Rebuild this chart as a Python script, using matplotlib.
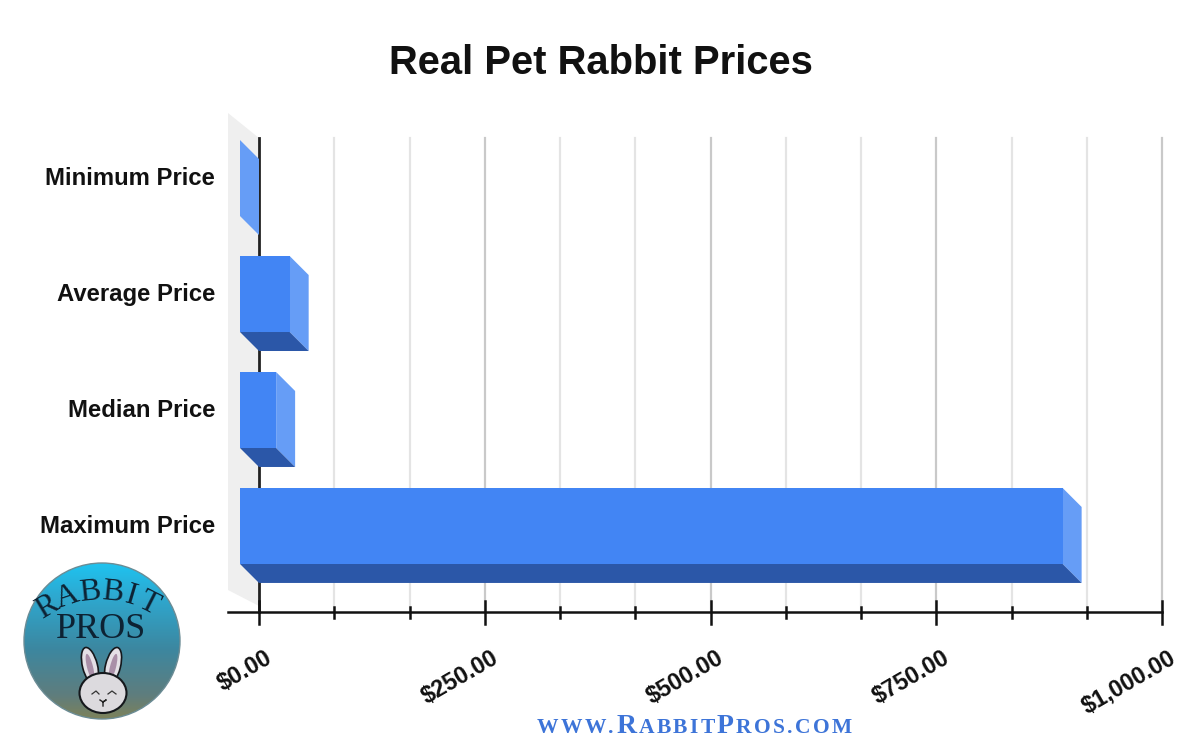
import numpy as np
import matplotlib
matplotlib.use("Agg")
import matplotlib.pyplot as plt
from matplotlib.patches import Polygon, Circle, Ellipse
from matplotlib.transforms import ScaledTranslation

# ---- data ----
categories = ["Minimum Price", "Average Price", "Median Price", "Maximum Price"]
prices = [0.0, 55.0, 40.0, 911.0]
major_ticks = [0, 250, 500, 750, 1000]
major_labels = ["$0.00", "$250.00", "$500.00", "$750.00", "$1,000.00"]
minor_steps = [1, 2, 4, 5, 7, 8, 10, 11]   # in twelfths of the axis
title = "Real Pet Rabbit Prices"
footer_parts = [("WWW.", 0), ("R", 1), ("ABBIT", 0), ("P", 1), ("ROS.COM", 0)]

# ---- style ----
FRONT, SIDE, UNDER = "#4285f4", "#669df6", "#2b57a8"
SANS = ["Liberation Sans", "DejaVu Sans"]
SERIF = ["Liberation Serif", "DejaVu Serif"]

W, H = 1200, 742
fig = plt.figure(figsize=(W / 100, H / 100), dpi=100, facecolor="white")
px_l, px_r, px_t, px_b = 259, 1162, 138, 612
ax = fig.add_axes([px_l / W, 1 - px_b / H, (px_r - px_l) / W, (px_b - px_t) / H])
ax.set_xlim(0, 1000)
ax.set_ylim(3.578, -0.509)
for s in ax.spines.values():
    s.set_visible(False)
ax.patch.set_alpha(0)

dx = 19 / 0.903      # depth of the 3D effect in dollars
dy = 19 / 116        # depth in category units
bar_h = 76 / 116

# back wall
xw = -31 / 0.903
ax.add_patch(Polygon([(xw, -0.509 - 25 / 116), (0, -0.509), (0, 3.578 - 6 / 116), (xw, 3.578 - 22 / 116)],
                     closed=True, fc="#efefef", ec="none", clip_on=False, zorder=1))

# grid
for k in range(1, 13):
    v = k * 1000 / 12
    is_major = k % 3 == 0
    ax.axvline(v, color="#c9c9c9" if is_major else "#e4e4e4", lw=1.6, zorder=1, clip_on=False)

ax.axvline(0, color="#222222", lw=2.0, zorder=2, clip_on=False)

ypos = np.arange(len(categories))
for i, v in zip(ypos, prices):
    yc = i - dy
    top, bot = yc - bar_h / 2, yc + bar_h / 2
    # right side
    ax.add_patch(Polygon([(v - dx, top), (v, top + dy), (v, bot + dy), (v - dx, bot)],
                         closed=True, fc=SIDE, ec="none", zorder=3, clip_on=False))
    if v > 0:
        # underside
        ax.add_patch(Polygon([(-dx, bot), (0, bot + dy), (v, bot + dy), (v - dx, bot)],
                             closed=True, fc=UNDER, ec="none", zorder=3, clip_on=False))
ax.barh(ypos - dy, prices, left=-dx, height=bar_h, color=FRONT, zorder=4, clip_on=False)

# axis line and ticks
ax.plot([xw, 1000], [3.578, 3.578], color="#111111", lw=1.8, clip_on=False, zorder=5)
ax.set_xticks(major_ticks)
ax.set_xticklabels(major_labels, rotation=30, ha="right", rotation_mode="anchor",
                   fontfamily=SANS, fontweight="bold", fontsize=16.8, color="#111111")
ax.tick_params(axis="x", which="major", length=0, pad=25)
shift = ScaledTranslation(6 / 100, 0, fig.dpi_scale_trans)
for lab in ax.get_xticklabels():
    lab.set_transform(lab.get_transform() + shift)
ymaj0, ymaj1 = 3.578 - 11 / 116, 3.578 + 12 / 116
for t in major_ticks:
    ax.plot([t, t], [ymaj0, ymaj1], color="#111111", lw=1.8, clip_on=False, zorder=5)
for k in minor_steps:
    v = k * 1000 / 12
    ax.plot([v, v], [3.578 - 5 / 116, 3.578 + 6 / 116], color="#111111", lw=1.8, clip_on=False, zorder=5)

ax.set_yticks(ypos - dy)
ax.set_yticklabels(categories, fontfamily=SANS, fontweight="bold", fontsize=17.2, color="#111111")
ax.tick_params(axis="y", length=0, pad=31.5)
yshift = ScaledTranslation(0, 2 / 100, fig.dpi_scale_trans)
for lab in ax.get_yticklabels():
    lab.set_transform(lab.get_transform() + yshift)

fig.text(601 / W, 1 - 63 / H, title, ha="center", va="center", fontfamily=SANS,
         fontweight="bold", fontsize=28.8, color="#111111")

# ---- overlay in pixel coordinates: logo and footer ----
ov = fig.add_axes([0, 0, 1, 1], zorder=6)
ov.set_xlim(0, W)
ov.set_ylim(H, 0)
ov.axis("off")

cx, cy, r = 102, 641, 78
stops_pos = [0.0, 0.2, 0.55, 0.85, 1.0]
stops_rgb = np.array([[30, 195, 240], [45, 170, 210], [60, 135, 160], [95, 125, 125], [125, 130, 90]]) / 255
grad_t = np.linspace(0, 1, 256)
grad = np.stack([np.interp(grad_t, stops_pos, stops_rgb[:, c]) for c in range(3)], axis=1)[:, None, :]
im = ov.imshow(grad, extent=(cx - r, cx + r, cy + r, cy - r), aspect="auto", zorder=1, interpolation="bilinear")
clip = Circle((cx, cy), r, transform=ov.transData)
im.set_clip_path(clip)
ov.set_xlim(0, W)
ov.set_ylim(H, 0)
ov.add_patch(Circle((cx, cy), r, fc="none", ec="#6b8c95", lw=1.0, zorder=2))

# curved RABBIT
ac_x, ac_y, ac_r = 101, 697, 105
letters = "RABBIT"
angles = np.array([-31, -18.5, -6, 6, 16.5, 27])
for ch, a in zip(letters, angles):
    th = np.deg2rad(a)
    ov.text(ac_x + ac_r * np.sin(th), ac_y - ac_r * np.cos(th), ch, rotation=-a,
            rotation_mode="anchor", ha="center", va="center", fontfamily=SERIF,
            fontsize=23, color="#0d2233", zorder=3)
ov.text(101, 629, "PROS", ha="center", va="center", fontfamily=SERIF, fontsize=26,
        color="#0d2233", zorder=3)

# rabbit face
for ex, ang in ((90, -14), (113, 14)):
    ov.add_patch(Ellipse((ex, 666), 15, 38, angle=ang, fc="#e4e0e6", ec="#15181c", lw=1.2, zorder=3))
    ov.add_patch(Ellipse((ex, 667), 6, 27, angle=ang, fc="#a98fa8", ec="none", zorder=3))
ov.add_patch(Ellipse((103, 693), 47, 40, fc="#dcdade", ec="#15181c", lw=1.5, zorder=4))
ov.plot([92, 96, 99], [694, 691, 694], color="#333333", lw=0.9, zorder=5)
ov.plot([108, 112, 116], [694, 691, 694], color="#333333", lw=0.9, zorder=5)
ov.plot([100, 103, 106, 103, 103], [700, 702, 700, 702, 706], color="#222222", lw=1.0, zorder=5)

# footer in small capitals, placed letter by letter for tracking
fig.canvas.draw()
rend = fig.canvas.get_renderer()
x = 537
for part, big in footer_parts:
    for ch in part:
        t = ov.text(x, 733, ch, ha="left", va="baseline", fontfamily=SERIF, fontweight="bold",
                    fontsize=20 if big else 15.5, color="#3d74d8", zorder=3)
        adv = t.get_window_extent(rend).width
        x += adv + 2.3

fig.savefig("out.png", dpi=100, facecolor="white")
